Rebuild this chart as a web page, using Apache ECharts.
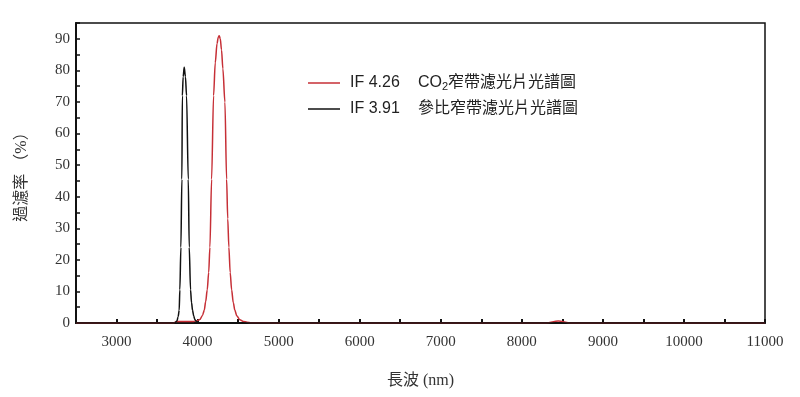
<!DOCTYPE html>
<html>
<head>
<meta charset="utf-8">
<script src="https://cdn.jsdelivr.net/npm/echarts@6/dist/echarts.min.js"></script>
<style>
  html, body { margin: 0; padding: 0; background: #fff; }
  #chart { width: 800px; height: 397px; }
</style>
</head>
<body>
<div id="chart"></div>
<script>
// wavelength (nm) / transmittance (%)
const co2Wave = [2500, 3700, 3750, 3950, 3990, 4028, 4060, 4082, 4100, 4119, 4137, 4152, 4173, 4197, 4218, 4240, 4255, 4267, 4280, 4295, 4312, 4337, 4358, 4372, 4386, 4402, 4420, 4440, 4460, 4485, 4522, 4565, 4610, 4660, 5000, 8300, 8450, 8600, 11000];
const co2Trans = [0, 0, 0.5, 0.5, 0.7, 1.1, 2.4, 4, 6.8, 10.5, 16, 24, 45.5, 72, 82.4, 88.5, 90.5, 91, 90, 86.5, 80.5, 70, 45.5, 33, 24, 16, 10.5, 6.5, 4, 2.2, 1, 0.5, 0.25, 0.1, 0, 0, 0.6, 0, 0];

const refWave = [2500, 3720, 3745, 3760, 3773, 3781, 3794, 3806, 3812, 3822, 3835, 3850, 3864, 3885, 3897, 3913, 3925, 3938, 3952, 3967, 3990, 4020, 11000];
const refTrans = [0, 0, 0.6, 2, 4, 10.5, 24, 45.5, 72, 78, 81, 78, 72, 45.5, 24, 10.5, 6.5, 4, 2.2, 1, 0.3, 0, 0];

const seriesNames = ['IF 4.26', 'IF 3.91'];
const seriesLabels = ['{a|IF 4.26}CO{sub|2}窄帶濾光片光譜圖', '{a|IF 3.91}參比窄帶濾光片光譜圖'];

const zip = (xs, ys) => xs.map((x, i) => [x, ys[i]]);

const chart = echarts.init(document.getElementById('chart'));

const serifFont = '"Liberation Serif", "Noto Sans CJK TC", serif';
const sansFont = '"Liberation Sans", "Noto Sans CJK TC", sans-serif';

chart.setOption({
  animation: false,
  backgroundColor: '#fff',
  grid: {
    left: 76,
    right: 35,
    top: 23,
    bottom: 74,
    show: true,
    borderColor: '#111',
    borderWidth: 1.5
  },
  legend: {
    orient: 'vertical',
    left: 303,
    top: 70,
    itemWidth: 32,
    itemHeight: 1.5,
    itemGap: 9,
    icon: 'rect',
    data: seriesNames,
    formatter: (name) => seriesLabels[seriesNames.indexOf(name)],
    textStyle: {
      fontFamily: sansFont,
      fontSize: 16,
      color: '#222',
      padding: [0, 0, 0, 5],
      rich: {
        a: { width: 68, fontFamily: sansFont, fontSize: 16, color: '#222' },
        sub: { fontFamily: sansFont, fontSize: 11, color: '#222', padding: [7, 0, 0, 0] }
      }
    }
  },
  xAxis: {
    type: 'value',
    min: 2500,
    max: 11000,
    interval: 500,
    name: '長波 (nm)',
    nameLocation: 'middle',
    nameGap: 50,
    nameTextStyle: { fontFamily: serifFont, fontSize: 16, color: '#333' },
    axisLine: { lineStyle: { color: '#111', width: 2 } },
    axisTick: { inside: true, length: 4, lineStyle: { color: '#111', width: 2 } },
    axisLabel: {
      fontFamily: serifFont,
      fontSize: 15,
      color: '#333',
      margin: 12,
      formatter: (v) => (v % 1000 === 0 && v > 2500 ? String(v) : '')
    },
    splitLine: { show: false }
  },
  yAxis: {
    type: 'value',
    min: 0,
    max: 95,
    interval: 5,
    name: '過濾率 （%）',
    nameLocation: 'middle',
    nameGap: 46,
    nameTextStyle: { fontFamily: serifFont, fontSize: 16, color: '#333' },
    axisLine: { show: true, lineStyle: { color: '#111', width: 2 } },
    axisTick: { inside: true, length: 4, lineStyle: { color: '#111', width: 1.5 } },
    axisLabel: {
      fontFamily: serifFont,
      fontSize: 15,
      color: '#333',
      margin: 6,
      formatter: (v) => (v % 10 === 0 ? String(v) : '')
    },
    splitLine: { show: false }
  },
  series: [
    {
      name: seriesNames[0],
      type: 'line',
      data: zip(co2Wave, co2Trans),
      smooth: 0.3,
      smoothMonotone: 'x',
      showSymbol: false,
      color: '#c62f36',
      lineStyle: { color: '#c62f36', width: 1.5 },
      z: 2
    },
    {
      name: seriesNames[1],
      type: 'line',
      data: zip(refWave, refTrans),
      smooth: 0.3,
      smoothMonotone: 'x',
      showSymbol: false,
      color: '#111',
      lineStyle: { color: '#111', width: 1.5 },
      z: 3
    }
  ]
});
</script>
</body>
</html>
